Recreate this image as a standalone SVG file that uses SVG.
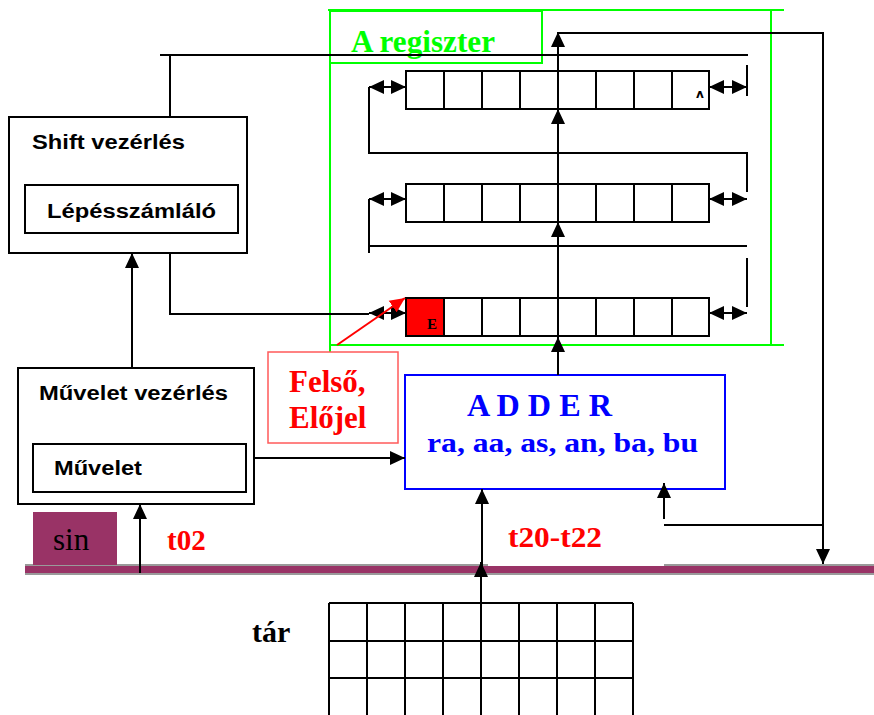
<svg xmlns="http://www.w3.org/2000/svg" width="874" height="715" viewBox="0 0 874 715">
<style>
.k{stroke:#000;stroke-width:2;fill:none}
.g{stroke:#00ff00;stroke-width:2;fill:none}
.box{stroke:#000;stroke-width:2;fill:#fff}
.cell{stroke:#000;stroke-width:2;fill:#fff}
.sans{font-family:"Liberation Sans",Arial,sans-serif;font-weight:bold;fill:#000}
.serif{font-family:"Liberation Serif","Times New Roman",serif;font-weight:bold}
</style>
<defs>
<marker id="ah" markerUnits="userSpaceOnUse" markerWidth="16" markerHeight="16" refX="15" refY="8" orient="auto-start-reverse" viewBox="0 0 16 16"><path d="M0,1 L15,8 L0,15 z" fill="#000"/></marker>
<marker id="ahr" markerUnits="userSpaceOnUse" markerWidth="16" markerHeight="16" refX="15" refY="8" orient="auto" viewBox="0 0 16 16"><path d="M0,1 L15,8 L0,15 z" fill="#ff0000"/></marker>
</defs>
<rect width="874" height="715" fill="#fff"/>

<!-- bus -->
<g id="bus">
<rect x="25" y="564" width="849" height="11" fill="#9a9a9a"/>
<rect x="25" y="566" width="849" height="7" fill="#993366"/>
</g>
<rect x="488" y="500" width="176" height="66" fill="#fff"/>

<!-- A register -->
<g id="a-regiszter">
<path class="g" d="M328,10 H784 M330,10 V352 M771,10 V345 M330,345 H784"/>
<rect x="330" y="11" width="212" height="52" class="g"/>
<text x="351" y="52" class="serif" font-size="31" fill="#00ff00" textLength="144" lengthAdjust="spacingAndGlyphs">A regiszter</text>
<g id="row1">
<rect x="406" y="71" width="303" height="38" class="cell"/>
<path class="k" d="M444,71V109M482,71V109M520,71V109M558,71V109M596,71V109M634,71V109M672,71V109"/>
<text x="696" y="98" font-family="DejaVu Sans,sans-serif" font-weight="bold" font-size="12">ʌ</text>
</g>
<g id="row2">
<rect x="406" y="184" width="303" height="38" class="cell"/>
<path class="k" d="M444,184V222M482,184V222M520,184V222M558,184V222M596,184V222M634,184V222M672,184V222"/>
</g>
<g id="row3">
<rect x="406" y="298" width="303" height="38" class="cell"/>
<rect x="407" y="299" width="37" height="36" fill="#ff0000"/>
<path class="k" d="M444,298V336M482,298V336M520,298V336M558,298V336M596,298V336M634,298V336M672,298V336"/>
<text x="427" y="329" class="serif" font-size="15" fill="#000">E</text>
</g>
</g>

<!-- Shift vezérlés -->
<g id="shift">
<rect x="9" y="117" width="238" height="136" class="box"/>
<text x="32" y="149" class="sans" font-size="21" textLength="153" lengthAdjust="spacingAndGlyphs">Shift vezérlés</text>
<rect x="25" y="185" width="213" height="48" class="box"/>
<text x="47" y="218" class="sans" font-size="20" textLength="169" lengthAdjust="spacingAndGlyphs">Lépésszámláló</text>
</g>

<!-- Művelet vezérlés -->
<g id="muvelet">
<rect x="18" y="368" width="236" height="136" class="box"/>
<text x="39" y="400" class="sans" font-size="20" textLength="189" lengthAdjust="spacingAndGlyphs">Művelet vezérlés</text>
<rect x="33" y="444" width="213" height="48" class="box"/>
<text x="54" y="475" class="sans" font-size="20" textLength="88" lengthAdjust="spacingAndGlyphs">Művelet</text>
</g>

<!-- Felső, Előjel -->
<g id="felso">
<rect x="268" y="352" width="130" height="91" fill="#fff" stroke="#ff5a5a" stroke-width="1.5"/>
<text x="289" y="392" class="serif" font-size="31" fill="#ff0000">Felső,</text>
<text x="289" y="428" class="serif" font-size="31" fill="#ff0000">Előjel</text>
</g>

<!-- ADDER -->
<g id="adder">
<rect x="405" y="375" width="320" height="114" fill="#fff" stroke="#0000ff" stroke-width="2"/>
<text x="467" y="416" class="serif" font-size="31" fill="#0000ff" textLength="145" lengthAdjust="spacingAndGlyphs">A D D E R</text>
<text x="427" y="452" class="serif" font-size="28" fill="#0000ff" textLength="271" lengthAdjust="spacingAndGlyphs">ra, aa, as, an, ba, bu</text>
</g>

<!-- sin -->
<g id="sin">
<rect x="33" y="512" width="84" height="53" fill="#993366"/>
<text x="53" y="550" font-family="Liberation Serif,serif" font-size="31" fill="#000">sin</text>
</g>

<!-- tár -->
<g id="tar">
<text x="252" y="642" class="serif" font-size="30" fill="#000">tár</text>
<path class="k" d="M329,603H633M329,641H633M329,678H633M329,716H633M329,603V716M367,603V716M405,603V716M443,603V716M481,603V716M519,603V716M557,603V716M595,603V716M633,603V716"/>
</g>

<text x="167" y="550" class="serif" font-size="29" fill="#ff0000">t02</text>
<text x="508" y="547" class="serif" font-size="30" fill="#ff0000" textLength="94" lengthAdjust="spacingAndGlyphs">t20-t22</text>

<!-- connectors -->
<g id="connectors">
<path class="k" d="M160,55H748M170,55V117"/>
<path class="k" d="M747,65V96"/>
<line class="k" x1="369" y1="87" x2="406" y2="87" marker-start="url(#ah)" marker-end="url(#ah)"/>
<line class="k" x1="709" y1="87" x2="747" y2="87" marker-start="url(#ah)" marker-end="url(#ah)"/>
<path class="k" d="M369,87V153H747V192"/>
<line class="k" x1="369" y1="199" x2="406" y2="199" marker-start="url(#ah)" marker-end="url(#ah)"/>
<line class="k" x1="709" y1="199" x2="747" y2="199" marker-start="url(#ah)" marker-end="url(#ah)"/>
<path class="k" d="M369,199V253M369,246H747M747,258V307"/>
<line class="k" x1="369" y1="313" x2="406" y2="313" marker-start="url(#ah)" marker-end="url(#ah)"/>
<line class="k" x1="709" y1="313" x2="747" y2="313" marker-start="url(#ah)" marker-end="url(#ah)"/>
<path class="k" d="M170,253V314H369"/>
<line class="k" x1="558" y1="375" x2="558" y2="337" marker-end="url(#ah)"/>
<line class="k" x1="558" y1="298" x2="558" y2="222" marker-end="url(#ah)"/>
<line class="k" x1="558" y1="184" x2="558" y2="109" marker-end="url(#ah)"/>
<line class="k" x1="558" y1="71" x2="558" y2="32" marker-end="url(#ah)"/>
<path class="k" d="M558,33H823V564" marker-end="url(#ah)"/>
<path class="k" d="M664,525H823"/>
<line class="k" x1="664" y1="519" x2="664" y2="483" marker-end="url(#ah)"/>
<line x1="337" y1="345" x2="405" y2="298" stroke="#ff0000" stroke-width="2" marker-end="url(#ahr)"/>
<line class="k" x1="132" y1="368" x2="132" y2="253" marker-end="url(#ah)"/>
<line class="k" x1="254" y1="458" x2="405" y2="458" marker-end="url(#ah)"/>
<line class="k" x1="140" y1="573" x2="140" y2="504" marker-end="url(#ah)"/>
<line class="k" x1="482" y1="566" x2="482" y2="489" marker-end="url(#ah)"/>
<line class="k" x1="481" y1="603" x2="481" y2="562" marker-end="url(#ah)"/>
</g>
</svg>
